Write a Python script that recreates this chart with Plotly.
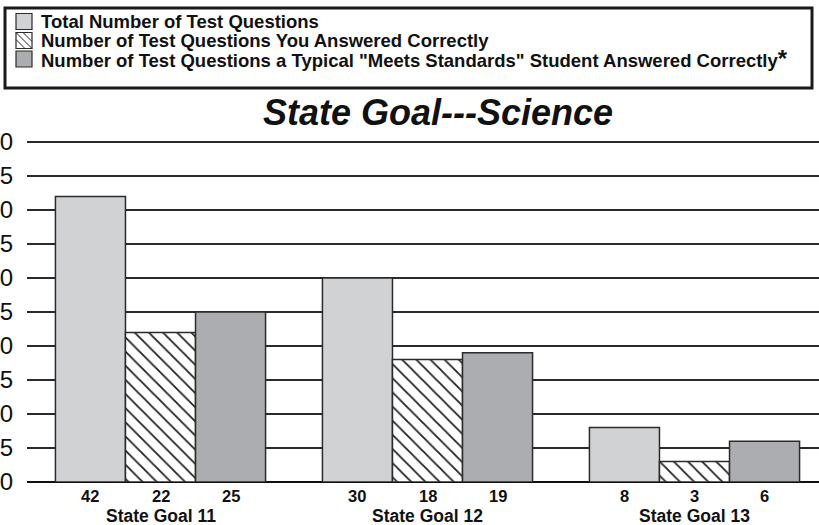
import plotly.graph_objects as go

# ---- data ----
groups = ["State Goal 11", "State Goal 12", "State Goal 13"]
total_questions = [42, 30, 8]
you_correct = [22, 18, 3]
typical_correct = [25, 19, 6]
series_names = [
    "Total Number of Test Questions",
    "Number of Test Questions You Answered Correctly",
    "Number of Test Questions a Typical \"Meets Standards\" Student Answered Correctly",
]
y_ticks = [0, 5, 10, 15, 20, 25, 30, 35, 40, 45, 50]
title_text = "State Goal---Science"

# ---- layout geometry (pixels) ----
W, H = 819, 525
L, R, T, B = 27, 0, 140, 43
PW, PH = W - L - R, H - T - B
YMAX = 50.3
BARGAP = 0.213


def px_x(p):
    return (p - L) / PW


def px_y(p):
    return (H - B - p) / PH


LIGHT = "#d1d2d4"
DARK = "#acadb0"
EDGE = "#2b2b2b"
FONT = "Liberation Sans, Arial, sans-serif"

xs = list(range(len(groups)))
fig = go.Figure()
fig.add_trace(go.Bar(x=xs, y=total_questions, name=series_names[0],
                     marker=dict(color=LIGHT, line=dict(color=EDGE, width=1.5))))
fig.add_trace(go.Bar(x=xs, y=you_correct, name=series_names[1],
                     marker=dict(color="white", line=dict(color=EDGE, width=1.5),
                                 pattern=dict(shape="\\", size=10, solidity=0.18,
                                              fgcolor="#222222", bgcolor="white",
                                              fillmode="replace"))))
fig.add_trace(go.Bar(x=xs, y=typical_correct, name=series_names[2],
                     marker=dict(color=DARK, line=dict(color=EDGE, width=1.5))))

annotations = []
bw = (1 - BARGAP) / 3
series_vals = [total_questions, you_correct, typical_correct]
for i, g in enumerate(groups):
    for j, vals in enumerate(series_vals):
        annotations.append(dict(x=i + (j - 1) * bw, y=0, xref="x", yref="paper",
                                yanchor="middle", yshift=-14, showarrow=False,
                                text="<b>%d</b>" % vals[i],
                                font=dict(family=FONT, size=16.5, color="#111")))
    annotations.append(dict(x=i, y=0, xref="x", yref="paper", yanchor="middle",
                            yshift=-34, showarrow=False, text="<b>%s</b>" % g,
                            font=dict(family=FONT, size=17.5, color="#111")))

# ---- manual legend ----
shapes = []
shapes.append(dict(type="rect", xref="paper", yref="paper",
                   x0=px_x(5), x1=px_x(812), y0=px_y(88), y1=px_y(8),
                   line=dict(color="#1a1a1a", width=3), fillcolor="white", layer="above"))
row_centers = [21.5, 40.5, 59]
sw_fill = [LIGHT, "white", DARK]
for k, (nm, yc) in enumerate(zip(series_names, row_centers)):
    sx0, sx1, sy0, sy1 = 16, 32, yc - 8, yc + 8
    shapes.append(dict(type="rect", xref="paper", yref="paper",
                       x0=px_x(sx0), x1=px_x(sx1), y0=px_y(sy1), y1=px_y(sy0),
                       line=dict(color=EDGE, width=1.2), fillcolor=sw_fill[k], layer="above"))
    if k == 1:
        for d in (-7, 0, 7):
            if d >= 0:
                a = (sx0 + d, sy0)
                b = (sx1, sy1 - d)
            else:
                a = (sx0, sy0 - d)
                b = (sx1 + d, sy1)
            shapes.append(dict(type="line", xref="paper", yref="paper",
                               x0=px_x(a[0]), y0=px_y(a[1]), x1=px_x(b[0]), y1=px_y(b[1]),
                               line=dict(color="#222", width=1), layer="above"))
    txt = "<b>%s</b>" % nm
    if k == 2:
        txt += "<span style='font-size:24px'><b>*</b></span>"
    annotations.append(dict(x=px_x(39), y=px_y(yc), xref="paper", yref="paper",
                            xanchor="left", yanchor="middle", showarrow=False,
                            text=txt, font=dict(family=FONT, size=18.5, color="#111")))

fig.update_layout(
    width=W, height=H,
    margin=dict(l=L, r=R, t=T, b=B, autoexpand=False),
    template="none",
    paper_bgcolor="white", plot_bgcolor="white",
    barmode="group", bargap=BARGAP, bargroupgap=0,
    showlegend=False,
    title=dict(text="<b><i>%s</i></b>" % title_text, x=438 / W, xref="container",
               xanchor="center", y=1 - 112 / H, yref="container", yanchor="middle",
               font=dict(family=FONT, size=36, color="#111")),
    xaxis=dict(range=[-0.5, -0.5 + PW / 267.0], showticklabels=False, ticks="",
               showgrid=False, zeroline=False, showline=False, automargin=False),
    yaxis=dict(range=[0, YMAX], tickvals=y_ticks, ticks="", showgrid=True,
               gridcolor="#2a2a2a", gridwidth=1.6, zeroline=True, zerolinecolor="#111",
               zerolinewidth=2.2, showline=False, automargin=False,
               ticklabelstandoff=13,
               tickfont=dict(family=FONT, size=24, color="#111")),
    shapes=shapes, annotations=annotations,
)

fig.write_html("out.html", config={"displayModeBar": False},
               post_script="document.body.style.margin='0';")
